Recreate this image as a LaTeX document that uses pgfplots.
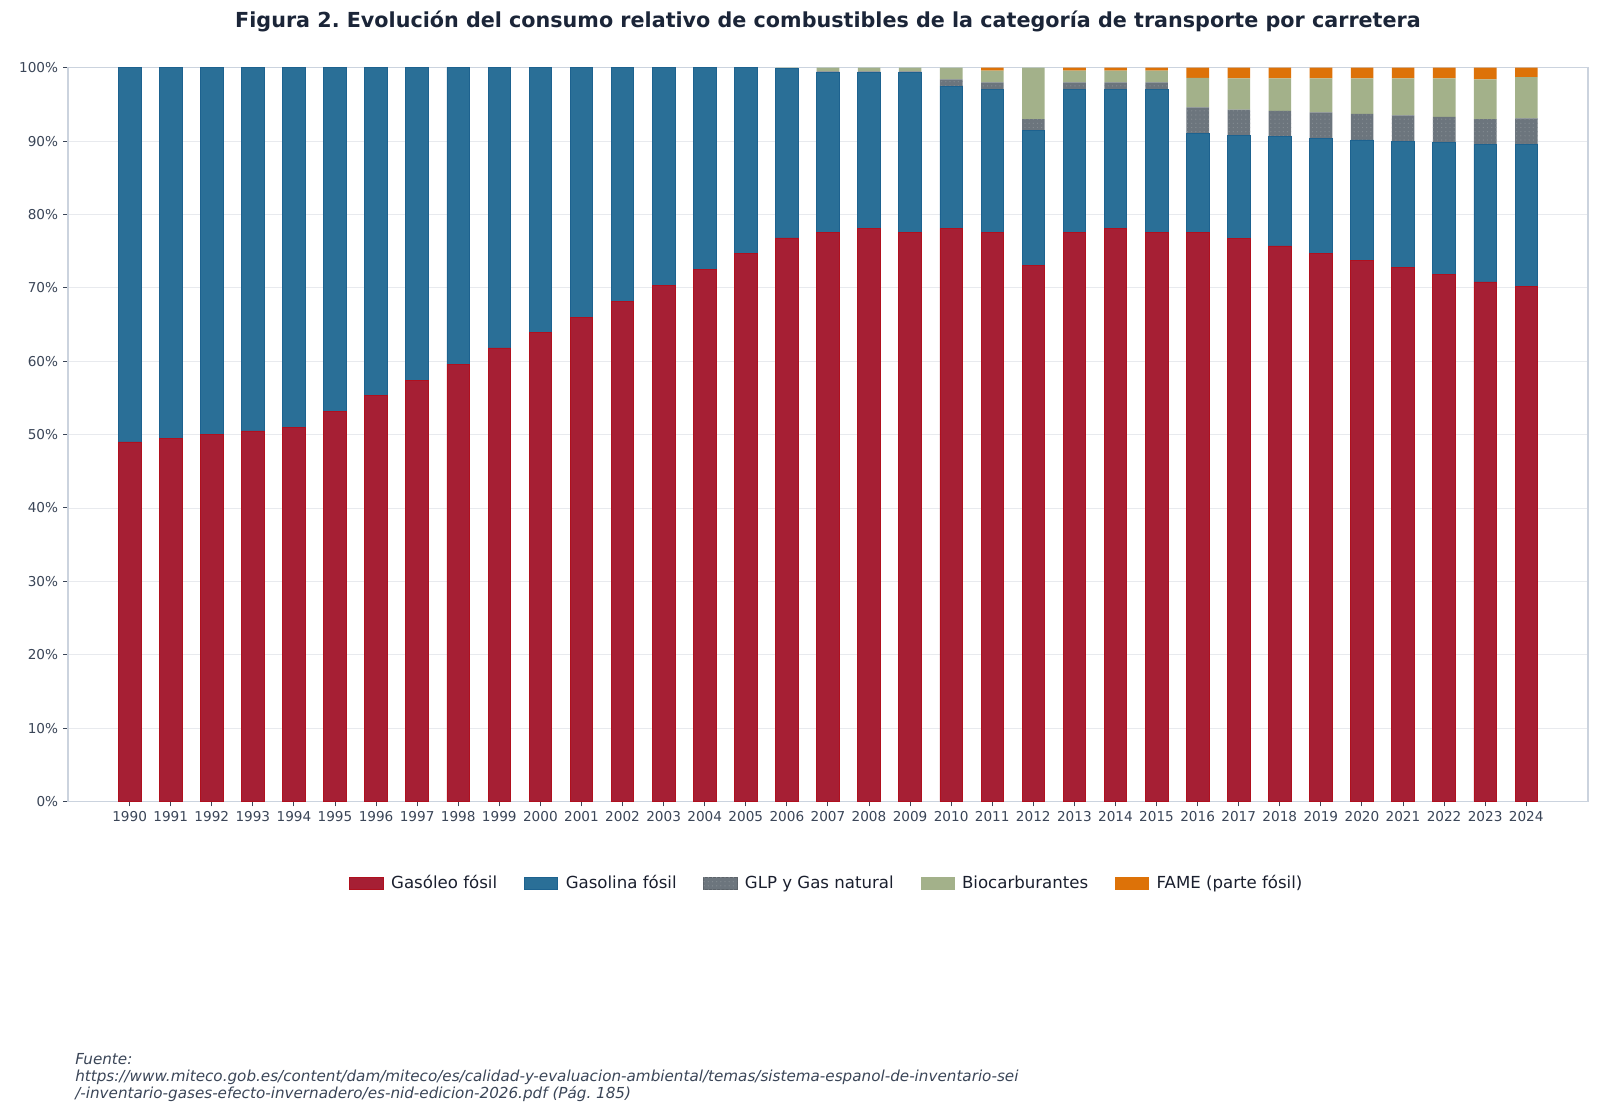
\documentclass[border=0pt]{standalone}
\usepackage{pgfplots}
\pgfplotsset{compat=1.18}
\usepackage{pgfplotstable}
\usepackage{fontspec}
\setmainfont{DejaVu Sans}
\usetikzlibrary{patterns}
\frenchspacing

\definecolor{cDie}{HTML}{A61F34}
\definecolor{cDieE}{HTML}{B0101E}
\definecolor{cGaso}{HTML}{2A6F97}
\definecolor{cGasoE}{HTML}{1D628F}
\definecolor{cGLP}{HTML}{6C757D}
\definecolor{cBio}{HTML}{A3B18A}
\definecolor{cFame}{HTML}{DD7208}
\definecolor{cTitle}{HTML}{1B2538}
\definecolor{cTick}{HTML}{3A4557}
\definecolor{cLeg}{HTML}{1A1F2E}
\definecolor{cFoot}{HTML}{3A4557}
\definecolor{cAxis}{HTML}{CBD3DE}
\definecolor{cGrid}{HTML}{E8EAEE}

\pgfplotstableread{
year dies gaso glp bio fame
1990 49.0 51.0 0 0 0
1991 49.5 50.5 0 0 0
1992 50.0 50.0 0 0 0
1993 50.5 49.5 0 0 0
1994 51.0 49.0 0 0 0
1995 53.1 46.9 0 0 0
1996 55.3 44.7 0 0 0
1997 57.4 42.6 0 0 0
1998 59.6 40.4 0 0 0
1999 61.8 38.2 0 0 0
2000 63.9 36.1 0 0 0
2001 66.0 34.0 0 0 0
2002 68.2 31.8 0 0 0
2003 70.3 29.7 0 0 0
2004 72.5 27.5 0 0 0
2005 74.7 25.3 0 0 0
2006 76.8 23.15 0 0.05 0
2007 77.5 21.8 0.2 0.5 0
2008 78.1 21.2 0.2 0.5 0
2009 77.5 21.8 0.2 0.5 0
2010 78.1 19.4 0.9 1.6 0
2011 77.5 19.5 1.0 1.6 0.4
2012 73.0 18.5 1.5 7.0 0
2013 77.5 19.5 1.0 1.6 0.4
2014 78.1 18.9 1.0 1.6 0.4
2015 77.5 19.5 1.0 1.6 0.4
2016 77.6 13.4 3.6 4.0 1.4
2017 76.7 14.1 3.5 4.25 1.45
2018 75.7 14.9 3.5 4.45 1.45
2019 74.7 15.7 3.5 4.65 1.45
2020 73.7 16.45 3.55 4.85 1.45
2021 72.8 17.2 3.5 5.05 1.45
2022 71.85 17.9 3.55 5.25 1.45
2023 70.8 18.7 3.5 5.4 1.6
2024 70.15 19.4 3.55 5.6 1.3
}\datatable

\begin{document}
\begin{tikzpicture}
\useasboundingbox (0,0) rectangle (1152pt,802.8pt);
\begin{axis}[
  at={(48.96pt,225.72pt)}, anchor=south west,
  scale only axis, width=1094.4pt, height=528.34pt,
  ybar stacked, bar width=0.55,
  xmin=1988.5, xmax=2025.5, ymin=0, ymax=100,
  xtick={1990,...,2024}, ytick={0,10,...,100},
  /pgf/number format/.cd, 1000 sep={}, assume math mode=true, /pgfplots/.cd,
  yticklabel={\pgfmathprintnumber{\tick}\%},
  xticklabel style={font=\fontsize{9.8}{11}\selectfont, text=cTick},
  yticklabel style={font=\fontsize{9.8}{11}\selectfont, text=cTick},
  tick pos=left, tick align=outside, major tick length=3.6pt,
  tick style={color=cTick, line width=0.7pt},
  axis line style={color=cAxis, line width=0.8pt},
  ymajorgrids, major grid style={color=cGrid, line width=0.6pt},
  legend columns=5,
  legend style={at={(0.5,-0.1115)}, anchor=center, draw=none, fill=none,
    font=\fontsize{11.95}{14}\selectfont, text=cLeg,
    /tikz/every even column/.append style={column sep=16.3pt},
    /tikz/every odd column/.append style={column sep=2.5pt},
    nodes={inner xsep=3pt}},
  legend image code/.code={\draw[#1] (0pt,-4.2pt) rectangle (24pt,4.2pt);},
]
\addplot[fill=cDie, draw=cDieE, line width=0.6pt] table[x=year,y=dies]{\datatable};
\addlegendentry{Gasóleo fósil}
\addplot[fill=cGaso, draw=cGasoE, line width=0.6pt] table[x=year,y=gaso]{\datatable};
\addlegendentry{Gasolina fósil}
\addplot[fill=cGLP, draw=none, postaction={pattern=dots, pattern color=cGLP!85!white},
  legend image post style={draw=cGLP!85!black, line width=0.4pt}] table[x=year,y=glp]{\datatable};
\addlegendentry{GLP y Gas natural}
\addplot[fill=cBio, draw=none, legend image post style={draw=cBio, line width=0.4pt}] table[x=year,y=bio]{\datatable};
\addlegendentry{Biocarburantes}
\addplot[fill=cFame, draw=none, legend image post style={draw=cFame, line width=0.4pt}] table[x=year,y=fame]{\datatable};
\addlegendentry{FAME (parte fósil)}
\end{axis}
\node[font=\bfseries\fontsize{14.9}{18}\selectfont, text=cTitle] at (596.16pt,787.3pt)
  {Figura 2. Evolución del consumo relativo de combustibles de la categoría de transporte por carretera};
\begin{scope}[every node/.style={anchor=base west, inner sep=0pt, font=\itshape\fontsize{10.93}{13}\selectfont, text=cFoot}]
\node at (54pt,36.4pt) {Fuente:};
\node at (54pt,24.1pt) {https://www.miteco.gob.es/content/dam/miteco/es/calidad-y-evaluacion-ambiental/temas/sistema-espanol-de-inventario-sei};
\node at (54pt,11.9pt) {/-inventario-gases-efecto-invernadero/es-nid-edicion-2026.pdf (Pág. 185)};
\end{scope}
\end{tikzpicture}
\end{document}
